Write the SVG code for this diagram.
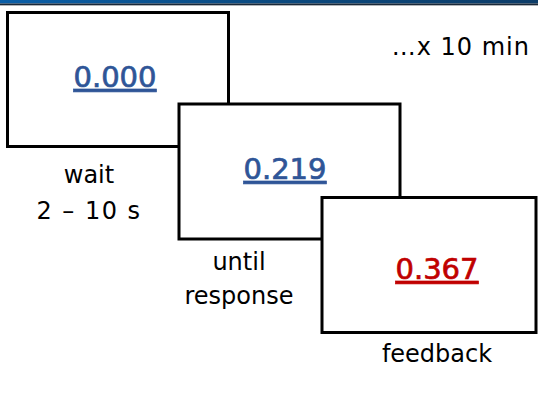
<svg xmlns="http://www.w3.org/2000/svg" width="538" height="397" viewBox="0 0 538 397">
<defs>
<linearGradient id="bar" x1="0" y1="0" x2="1" y2="0">
<stop offset="0" stop-color="#0a5fa8"/>
<stop offset="0.5" stop-color="#0b4a80"/>
<stop offset="1" stop-color="#0c3c68"/>
</linearGradient>
<style>
.box{fill:#fff;stroke:#000;stroke-width:3}
.num{font-family:"DejaVu Sans","Liberation Sans",sans-serif;font-size:29px;text-anchor:middle;text-decoration:underline;stroke-width:0.7}
.blue{fill:#2f5597;stroke:#2f5597}
.red{fill:#c00000;stroke:#c00000}
.lbl{font-family:"DejaVu Sans","Liberation Sans",sans-serif;font-size:24px;text-anchor:middle;fill:#000}
</style>
</defs>
<rect x="0" y="0" width="538" height="538" fill="#fff"/>
<rect x="0" y="0" width="538" height="3.5" fill="url(#bar)"/>
<rect x="0" y="3.5" width="538" height="1.5" fill="#1a2838"/>
<rect x="0" y="5" width="538" height="1" fill="#b0b4b8"/>
<text class="lbl" x="530" y="55" style="text-anchor:end;letter-spacing:1px">…x 10 min</text>
<g id="box1">
<rect class="box" x="7.5" y="12.5" width="221" height="134"/>
<text class="num blue" x="115" y="87">0.000</text>
</g>
<g id="label-wait">
<text class="lbl" x="89" y="183">wait</text>
<text class="lbl" x="89" y="219" style="letter-spacing:1.5px">2 – 10 s</text>
</g>
<g id="box2">
<rect class="box" x="179" y="104" width="221" height="135"/>
<text class="num blue" x="285" y="179">0.219</text>
</g>
<g id="label-until">
<text class="lbl" x="239" y="270">until</text>
<text class="lbl" x="239" y="304">response</text>
</g>
<g id="box3">
<rect class="box" x="322" y="197.5" width="214" height="135"/>
<text class="num red" x="437" y="279">0.367</text>
</g>
<g id="label-feedback">
<text class="lbl" x="437" y="362">feedback</text>
</g>
<g id="connectors"/>
</svg>
